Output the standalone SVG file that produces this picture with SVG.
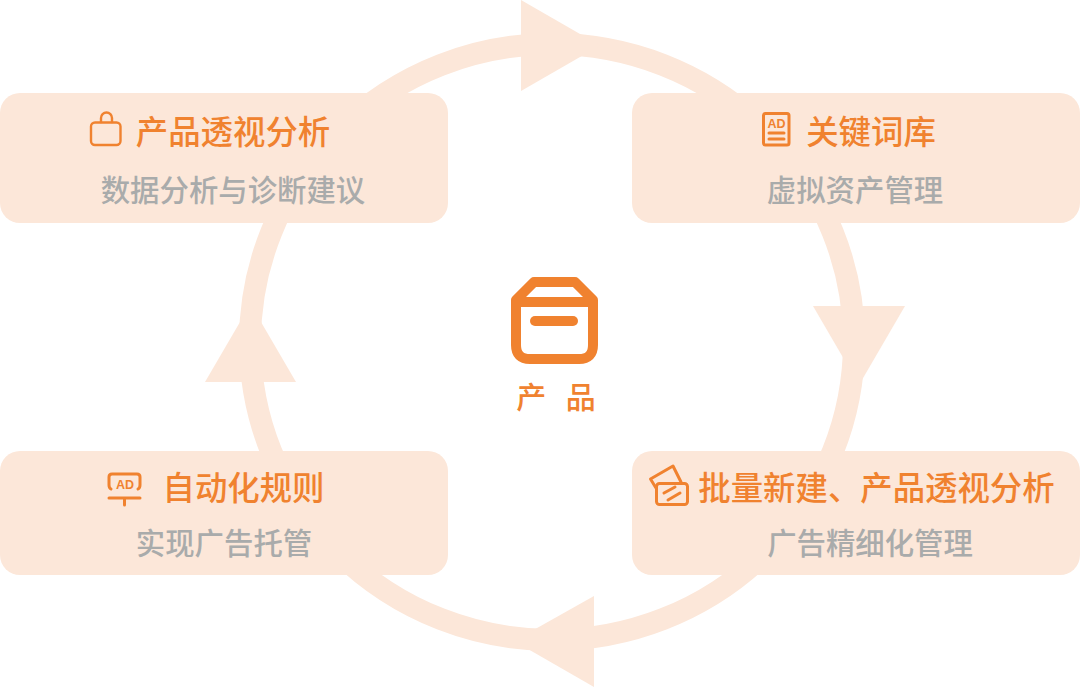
<svg xmlns="http://www.w3.org/2000/svg" width="1080" height="687" viewBox="0 0 1080 687">
<style>
.card{fill:#fce7d9}
.head{fill:#fce7d9}
.ring{fill:none;stroke:#fce7d9;stroke-width:22}
text{font-family:"Noto Sans CJK SC","Noto Sans",sans-serif}
.t{font-size:32.4px;fill:#f0822f;font-weight:500;text-anchor:middle}
.s{font-size:29.4px;fill:#a9abab;font-weight:500;text-anchor:middle}
.ad{font-size:12.500px;fill:#f0822f;font-weight:700;font-family:"Liberation Sans",sans-serif;text-anchor:middle}
.i{fill:none;stroke:#f0822f;stroke-width:2.4;stroke-linejoin:round;stroke-linecap:round}
.i3{fill:none;stroke:#f0822f;stroke-width:3;stroke-linejoin:round;stroke-linecap:round}
</style>
<rect width="1080" height="687" fill="#ffffff"/>
<g id="connectors">
<ellipse class="ring" cx="552" cy="342" rx="302" ry="298"/>
<polygon class="head" points="521,0 521,91 600,45.5"/>
<polygon class="head" points="813,306 905,306 859,385"/>
<polygon class="head" points="594,596 594,687 514,641"/>
<polygon class="head" points="205,382 296,382 250.5,304"/>
</g>
<g id="node-center">
<path d="M516 300 L534 282 L575 282 L593 300 V345 Q593 359 579 359 H530 Q516 359 516 345 Z" fill="none" stroke="#f0822f" stroke-width="10" stroke-linejoin="round"/>
<path d="M516 302 H593" stroke="#f0822f" stroke-width="10" fill="none"/>
<rect x="530" y="316" width="48" height="10" rx="5" fill="#f0822f"/>
<text x="556" y="408" font-size="30" fill="#f0822f" font-weight="500" text-anchor="middle" word-spacing="13">产 品</text>
</g>
<g id="node-analysis">
<rect class="card" x="0" y="93" width="448" height="130" rx="20"/>
<rect class="i" x="91" y="122.500" width="29.500" height="22.500" rx="4"/>
<path class="i" d="M101 122 V118 A5.500 5.500 0 0 1 112 118 V122"/>
<text class="t" x="233" y="144">产品透视分析</text>
<text class="s" x="233" y="201">数据分析与诊断建议</text>
</g>
<g id="node-keywords">
<rect class="card" x="632" y="93" width="448" height="130" rx="20"/>
<rect class="i3" x="763.500" y="113.500" width="25.500" height="31.500" rx="2"/>
<text class="ad" x="776.500" y="128">AD</text>
<path class="i3" d="M769 133 H784 M769 139 H784"/>
<text class="t" x="871" y="144">关键词库</text>
<text class="s" x="855" y="201">虚拟资产管理</text>
</g>
<g id="node-batch">
<rect class="card" x="632" y="451" width="448" height="124" rx="20"/>
<rect class="i3" x="656.500" y="483.500" width="31" height="21" rx="3"/>
<path class="i3" d="M656 488 L650.500 479 L673 466 L681 482"/>
<path class="i3" d="M664 493 L675 487 M668 500 L680 493"/>
<text class="t" x="876.500" y="500">批量新建、产品透视分析</text>
<text class="s" x="870" y="554">广告精细化管理</text>
</g>
<g id="node-rules">
<rect class="card" x="0" y="451" width="448" height="124" rx="20"/>
<path class="i3" d="M111 489 Q109 488 109 485 V477 Q109 474 112 474 H137 Q140 474 140 477 V485 Q140 488 138 489"/>
<text class="ad" x="125" y="488.500">AD</text>
<path class="i3" d="M109 498 H140 M124.500 498 V505"/>
<text class="t" x="243.500" y="500">自动化规则</text>
<text class="s" x="224" y="554">实现广告托管</text>
</g>
</svg>
